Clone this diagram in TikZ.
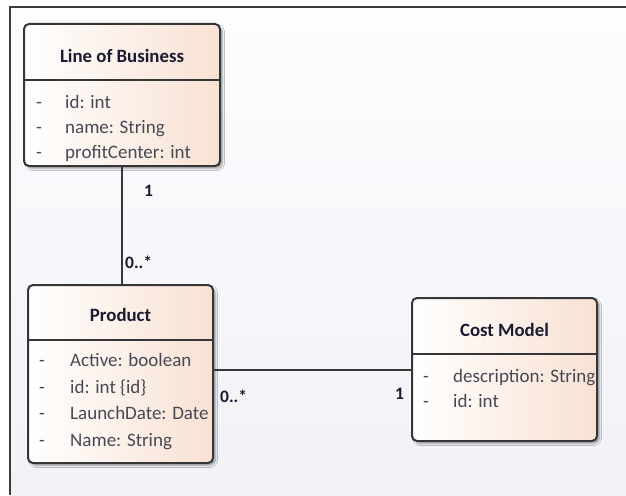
\documentclass[tikz,border=0pt]{standalone}
\usepackage{fontspec}
\setmainfont{Carlito}
\usetikzlibrary{shadows.blur}
\definecolor{framegray}{HTML}{3C3C3C}
\definecolor{boxedge}{HTML}{363636}
\definecolor{peach}{HTML}{F8E1D3}
\definecolor{titleink}{HTML}{1A1A30}
\definecolor{attrink}{HTML}{484854}
\definecolor{bgtop}{HTML}{FCFDFE}
\definecolor{bgbot}{HTML}{F0F2F7}
\tikzset{
  classbox/.style={draw=boxedge, line width=2pt, rounded corners=5pt,
    left color=white, right color=peach, anchor=north west,
    inner sep=0pt, outer sep=0pt,
    blur shadow={shadow xshift=2.5pt, shadow yshift=-2.5pt, shadow blur steps=5, shadow opacity=35}},
  ctitle/.style={font=\fontsize{18.8}{20}\selectfont\bfseries, text=titleink, inner sep=0pt},
  attr/.style={font=\fontsize{19}{20}\selectfont, text=attrink, anchor=west,
    inner sep=0pt, text height=12.5pt, text depth=0pt},
  mult/.style={font=\fontsize{17.5}{19}\selectfont\bfseries, text=titleink, anchor=west,
    inner sep=0pt, text height=12pt, text depth=0pt},
  sep/.style={draw=boxedge, line width=1.8pt},
  link/.style={draw=boxedge, line width=2pt},
}
\begin{document}
\begin{tikzpicture}[x=1pt,y=-1pt]
\useasboundingbox (0,0) rectangle (626,495);
% page background and frame
\fill[white] (0,0) rectangle (626,495);
\shade[top color=bgtop, bottom color=bgbot] (10,7) rectangle (626,495);
\draw[framegray, line width=1.8pt] (10,495) -- (10,7) -- (626,7);

% Line of Business
\node[classbox, minimum width=196pt, minimum height=142pt] (lob) at (24,24) {};
\draw[sep] (24,80) -- (220,80);
\node[ctitle] (lobt) at (122,56) {Line of Business};
\node[attr] (lobd1) at (36,102) {-};
\node[attr] (loba1) at (65,102) {id: int};
\node[attr] (lobd2) at (36,127) {-};
\node[attr] (loba2) at (65,127) {name: String};
\node[attr] (lobd3) at (36,152) {-};
\node[attr] (loba3) at (65,152) {profitCenter: int};

% Product
\node[classbox, minimum width=185pt, minimum height=178pt] (prod) at (28,285) {};
\draw[sep] (28,340) -- (213,340);
\node[ctitle] (prodt) at (120.5,315) {Product};
\node[attr] (prodd1) at (39,360) {-};
\node[attr] (proda1) at (70,360) {Active: boolean};
\node[attr] (prodd2) at (39,387) {-};
\node[attr] (proda2) at (70,387) {id: int \{id\}};
\node[attr] (prodd3) at (39,413) {-};
\node[attr] (proda3) at (70,413) {LaunchDate: Date};
\node[attr] (prodd4) at (39,440) {-};
\node[attr] (proda4) at (70,440) {Name: String};

% Cost Model
\node[classbox, minimum width=185pt, minimum height=143pt] (cm) at (412,298) {};
\draw[sep] (412,354) -- (597,354);
\node[ctitle] (cmt) at (504.5,330) {Cost Model};
\node[attr] (cmd1) at (423,376) {-};
\node[attr] (cma1) at (453,376) {description: String};
\node[attr] (cmd2) at (423,401) {-};
\node[attr] (cma2) at (453,401) {id: int};

% associations
\draw[link] (lob.south) -- (lob.south |- prod.north);
\draw[link] (prod.east |- cm.west) -- (cm.west);

% multiplicities
\node[mult] (m1) at (144,190) {1};
\node[mult] (m2) at (125,262) {0..*};
\node[mult] (m3) at (220,396) {0..*};
\node[mult] (m4) at (395,393) {1};
\end{tikzpicture}
\end{document}
